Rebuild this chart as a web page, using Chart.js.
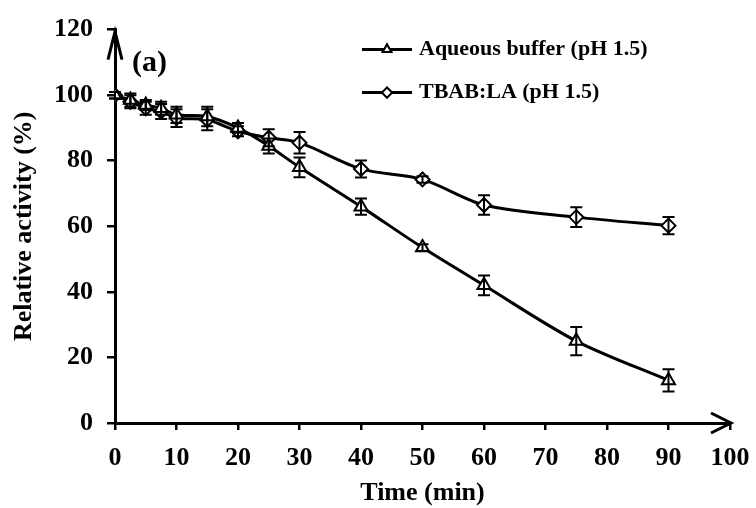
<!DOCTYPE html>
<html>
<head>
<meta charset="utf-8">
<script src="https://cdn.jsdelivr.net/npm/chart.js@4/dist/chart.umd.min.js"></script>
<style>
  html, body { margin: 0; padding: 0; background: #fff; }
  #wrap { width: 756px; height: 508px; }
</style>
</head>
<body>
<div id="wrap"><canvas id="chart"></canvas></div>
<script>
const timeMin = [0, 2.5, 5, 7.5, 10, 15, 20, 25, 30, 40, 50, 60, 75, 90];
const aqueous = [100, 98.5, 97, 96, 94, 93.5, 90, 84.5, 78, 66, 53.5, 42, 25, 13];
const aqueousErr = [1, 2, 1.5, 2, 2.5, 3, 1.5, 2.3, 3, 2.5, 1, 3, 4.3, 3.4];
const tbab = [100, 98, 96, 95, 93, 92.5, 89, 87, 85.5, 77.5, 74.3, 66.5, 62.8, 60.2];
const tbabErr = [1, 2, 2, 2.3, 2.7, 3.2, 1.5, 2.6, 3.3, 2.6, 1, 3, 3, 2.6];
const xTicks = [0, 10, 20, 30, 40, 50, 60, 70, 80, 90, 100];
const yTicks = [0, 20, 40, 60, 80, 100, 120];

const serif = "'Liberation Serif', 'Times New Roman', serif";

// error bars, legend, (a) label and axis arrows
const extras = {
    id: "extras",
    afterDatasetsDraw(chart) {
        const ctx = chart.ctx;
        const yScale = chart.scales.y;
        const errs = [aqueousErr, tbabErr];
        const vals = [aqueous, tbab];
        ctx.save();
        ctx.strokeStyle = "#000";
        ctx.lineWidth = 2;
        errs.forEach((err, d) => {
            const meta = chart.getDatasetMeta(d);
            meta.data.forEach((pt, i) => {
                const top = yScale.getPixelForValue(vals[d][i] + err[i]);
                const bot = yScale.getPixelForValue(vals[d][i] - err[i]);
                ctx.beginPath();
                ctx.moveTo(pt.x, top);
                ctx.lineTo(pt.x, bot);
                ctx.moveTo(pt.x - 6, top);
                ctx.lineTo(pt.x + 6, top);
                ctx.moveTo(pt.x - 6, bot);
                ctx.lineTo(pt.x + 6, bot);
                ctx.stroke();
            });
        });
        ctx.restore();
    },
    afterDraw(chart) {
        const ctx = chart.ctx;
        const area = chart.chartArea;
        ctx.save();
        ctx.strokeStyle = "#000";
        ctx.fillStyle = "#000";
        ctx.lineWidth = 3;
        ctx.lineCap = "butt";

        // x arrow
        ctx.beginPath();
        ctx.moveTo(area.right - 19, area.bottom - 10);
        ctx.lineTo(area.right + 1, area.bottom);
        ctx.lineTo(area.right - 19, area.bottom + 10);
        ctx.stroke();

        // y arrow
        ctx.beginPath();
        ctx.moveTo(area.left - 7, area.top + 30);
        ctx.lineTo(area.left, area.top + 2);
        ctx.lineTo(area.left + 7, area.top + 30);
        ctx.stroke();

        // (a)
        ctx.font = "bold 30px " + serif;
        ctx.textBaseline = "middle";
        ctx.textAlign = "left";
        ctx.fillText("(a)", area.left + 17, area.top + 34);

        // legend
        const names = ["Aqueous buffer (pH 1.5)", "TBAB:LA (pH 1.5)"];
        const styles = ["triangle", "rectRot"];
        names.forEach((name, i) => {
            const ly = area.top + 20 + i * 43;
            const lx = area.left + 247;
            ctx.lineWidth = 3;
            ctx.beginPath();
            ctx.moveTo(lx, ly);
            ctx.lineTo(lx + 50, ly);
            ctx.stroke();
            ctx.fillStyle = "#fff";
            ctx.lineWidth = 2;
            Chart.helpers.drawPoint(ctx, { pointStyle: styles[i], radius: 5, rotation: 0, borderWidth: 2 }, lx + 25, ly);
            ctx.fill();
            ctx.stroke();
            ctx.fillStyle = "#000";
            ctx.font = "bold 22px " + serif;
            ctx.fillText(name, lx + 57, ly);
        });
        ctx.restore();
    }
};

new Chart(document.getElementById("chart"), {
    type: "line",
    data: {
        datasets: [
            {
                label: "Aqueous buffer (pH 1.5)",
                data: timeMin.map((t, i) => ({ x: t, y: aqueous[i] })),
                borderColor: "#000",
                borderWidth: 3,
                backgroundColor: "#fff",
                pointStyle: "triangle",
                pointRadius: 7.5,
                pointBorderWidth: 2,
                pointBackgroundColor: "#fff",
                pointBorderColor: "#000",
                tension: 0.3,
                fill: false
            },
            {
                label: "TBAB:LA (pH 1.5)",
                data: timeMin.map((t, i) => ({ x: t, y: tbab[i] })),
                borderColor: "#000",
                borderWidth: 3,
                backgroundColor: "#fff",
                pointStyle: "rectRot",
                pointRadius: 7,
                pointBorderWidth: 2,
                pointBackgroundColor: "#fff",
                pointBorderColor: "#000",
                tension: 0.3,
                fill: false
            }
        ]
    },
    options: {
        responsive: true,
        maintainAspectRatio: false,
        animation: false,
        layout: { padding: { top: 22, right: 26, left: 0, bottom: 0 } },
        plugins: {
            legend: { display: false },
            tooltip: { enabled: false }
        },
        scales: {
            x: {
                type: "linear",
                min: 0,
                max: 100,
                afterFit: (s) => { s.height = 85; s.paddingLeft = 0; s.paddingRight = 0; },
                afterBuildTicks: (s) => { s.ticks = xTicks.map((v) => ({ value: v })); },
                ticks: {
                    color: "#000",
                    padding: 13,
                    font: { family: serif, size: 26, weight: "bold" }
                },
                grid: { drawOnChartArea: false, drawTicks: true, tickLength: 7, color: "#000", lineWidth: 2.5 },
                border: { display: true, color: "#000", width: 3 },
                title: {
                    display: true,
                    text: "Time (min)",
                    color: "#000",
                    padding: { top: 0, bottom: -1 },
                    font: { family: serif, size: 26, weight: "bold" }
                }
            },
            y: {
                min: 0,
                max: 120,
                afterFit: (s) => { s.width = 115; },
                afterBuildTicks: (s) => { s.ticks = yTicks.map((v) => ({ value: v })); },
                ticks: {
                    color: "#000",
                    padding: 14,
                    font: { family: serif, size: 26, weight: "bold" }
                },
                grid: { drawOnChartArea: false, drawTicks: true, tickLength: 8, color: "#000", lineWidth: 2.5 },
                border: { display: true, color: "#000", width: 3 },
                title: {
                    display: true,
                    text: "Relative activity (%)",
                    color: "#000",
                    padding: { top: 9, bottom: 0 },
                    font: { family: serif, size: 26, weight: "bold" }
                }
            }
        }
    },
    plugins: [extras]
});
</script>
</body>
</html>
